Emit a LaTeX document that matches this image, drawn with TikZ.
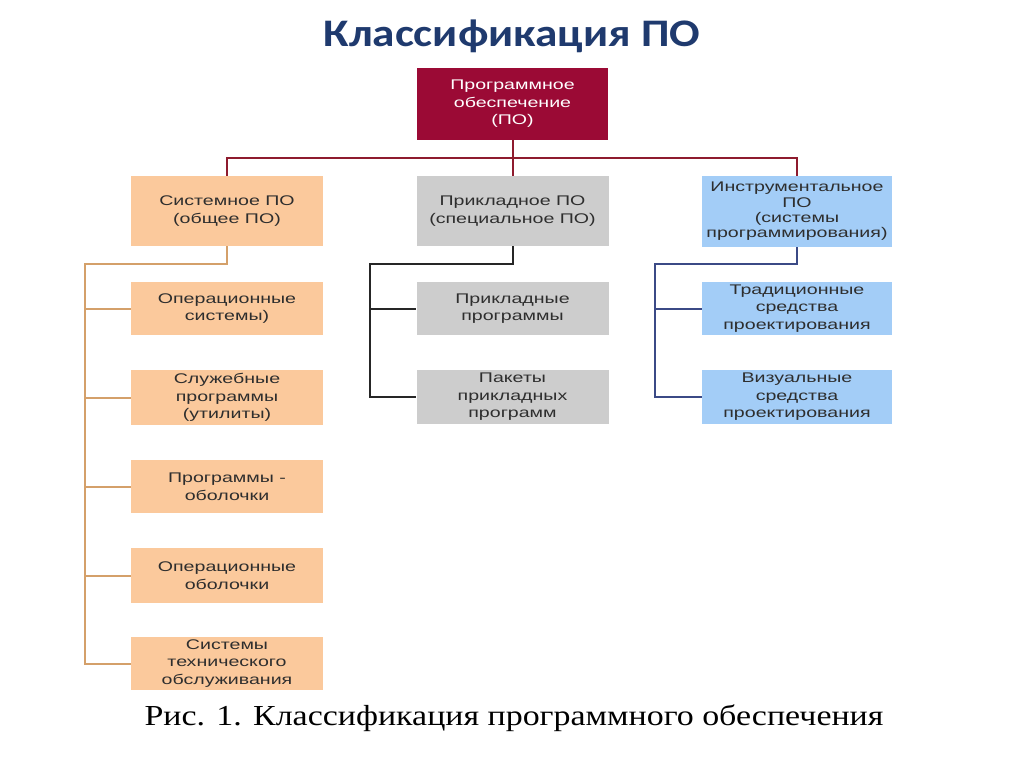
\documentclass[tikz,border=0pt]{standalone}
\usepackage{fontspec}
\setmainfont{Liberation Sans}
\newfontfamily\titlefont[FakeStretch=1.16]{Carlito}
\newfontfamily\capfont[FakeStretch=1.17]{Liberation Serif}
\newfontfamily\boxfont[FakeStretch=1.4]{Liberation Sans}
\definecolor{topred}{HTML}{9B0A35}
\definecolor{peach}{HTML}{FBC99C}
\definecolor{grayb}{HTML}{CDCDCD}
\definecolor{blueb}{HTML}{A3CDF7}
\definecolor{redline}{HTML}{8E1B2E}
\definecolor{orline}{HTML}{D4A06A}
\definecolor{blline}{HTML}{3B4A86}
\definecolor{titleblue}{HTML}{1F3A6E}
\definecolor{txt}{HTML}{2E2E2E}
\begin{document}
\begin{tikzpicture}[x=1pt,y=-1pt,
  box/.style={minimum width=192pt, inner sep=0pt, align=center, text=txt,
    font=\boxfont\fontsize{14}{17.5}\selectfont},
  obox/.style={box, fill=peach},
  gbox/.style={box, fill=grayb},
  bbox/.style={box, fill=blueb},
  conn/.style={line width=2pt}]
\useasboundingbox (0,0) rectangle (1024,767);
\fill[white] (0,0) rectangle (1024,767);
\node[font=\titlefont\bfseries\fontsize{39}{41}\selectfont, text=titleblue] (title) at (512,36) {Классификация ПО};
\node[box, fill=topred, text=white, minimum height=72pt, minimum width=191pt] (top) at (512.5,104) {Программное\\обеспечение\\(ПО)};
\node[obox, minimum height=70pt] (sys) at (227,211) {Системное ПО\\(общее ПО)};
\node[gbox, minimum height=70pt] (app) at (512.5,211) {Прикладное ПО\\(специальное ПО)};
\node[bbox, minimum height=71pt, minimum width=190pt, font=\boxfont\fontsize{14}{15.3}\selectfont] (tool) at (797,211.5) {Инструментальное\\ПО\\(системы\\программирования)};
\node[obox, minimum height=53pt] (s1) at (227,308.5) {Операционные\\системы)};
\node[obox, minimum height=55pt] (s2) at (227,397.5) {Служебные\\программы\\(утилиты)};
\node[obox, minimum height=53pt] (s3) at (227,486.5) {Программы -\\оболочки};
\node[obox, minimum height=55pt] (s4) at (227,575.5) {Операционные\\оболочки};
\node[obox, minimum height=53pt] (s5) at (227,663.5) {Системы\\технического\\обслуживания};
\node[gbox, minimum height=53pt] (a1) at (512.5,308.5) {Прикладные\\программы};
\node[gbox, minimum height=54pt] (a2) at (512.5,397) {Пакеты\\прикладных\\программ};
\node[bbox, minimum height=53pt, minimum width=190pt] (t1) at (797,308.5) {Традиционные\\средства\\проектирования};
\node[bbox, minimum height=54pt, minimum width=190pt] (t2) at (797,397) {Визуальные\\средства\\проектирования};
\node[font=\capfont\fontsize{29}{31}\selectfont, text=black] (cap) at (514,718) {Рис. 1. Классификация программного обеспечения};
% connectors
\coordinate (j0) at (512.5,158);
\draw[conn, redline] (top.south) -- (j0) -| (sys.north);
\draw[conn, redline] (j0) -| (tool.north);
\draw[conn, redline] (j0) -- (app.north);
\coordinate (j1) at (85,264);
\draw[conn, orline] (sys.south) |- (j1) |- (s5.west);
\foreach \n in {s1,s2,s3,s4} \draw[conn, orline] (j1 |- \n.west) -- (\n.west);
\coordinate (j2) at (370,264);
\draw[conn, black!85] (app.south) |- (j2) |- (a2.west);
\draw[conn, black!85] (j2 |- a1.west) -- (a1.west);
\coordinate (j3) at (655,264);
\draw[conn, blline] (tool.south) |- (j3) |- (t2.west);
\draw[conn, blline] (j3 |- t1.west) -- (t1.west);
\end{tikzpicture}
\end{document}
